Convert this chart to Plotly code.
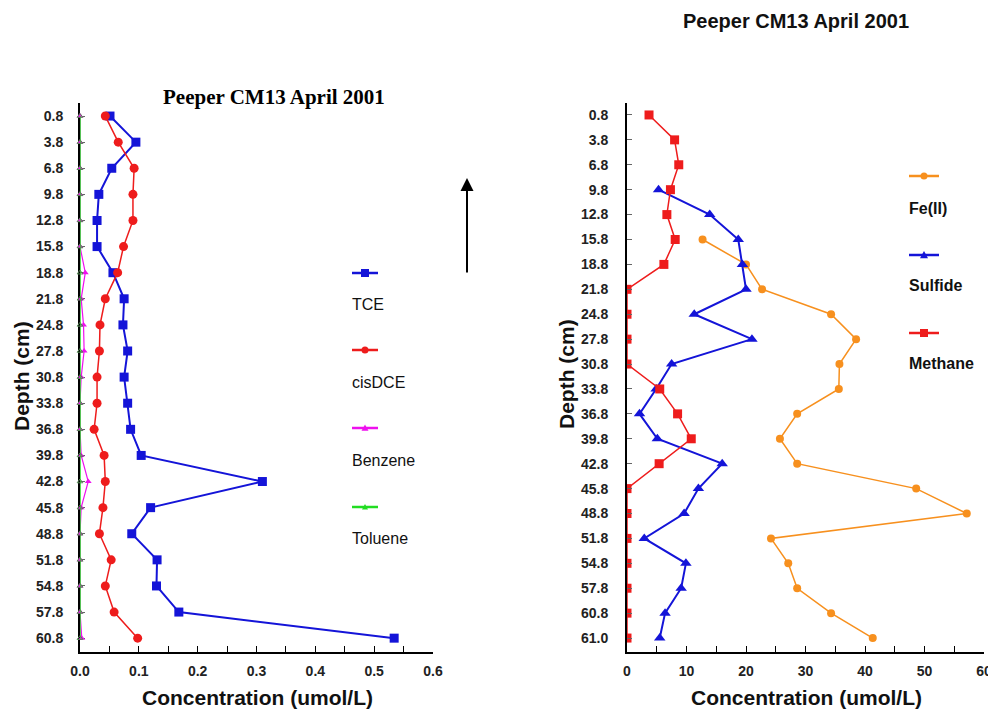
import plotly.graph_objects as go

# page is shown with an 8px body margin, so the figure is drawn 8px in from the top-left
OFF = 8
W, H = 988, 703

# ---------------- data ----------------
depth_left = ["0.8", "3.8", "6.8", "9.8", "12.8", "15.8", "18.8", "21.8", "24.8", "27.8", "30.8",
              "33.8", "36.8", "39.8", "42.8", "45.8", "48.8", "51.8", "54.8", "57.8", "60.8"]
tce = [0.051, 0.095, 0.054, 0.032, 0.029, 0.029, 0.056, 0.075, 0.073, 0.081, 0.075,
       0.081, 0.086, 0.104, 0.310, 0.120, 0.088, 0.131, 0.130, 0.168, 0.534]
cisdce = [0.043, 0.065, 0.092, 0.090, 0.090, 0.074, 0.064, 0.043, 0.034, 0.033, 0.029,
          0.029, 0.024, 0.041, 0.043, 0.039, 0.033, 0.053, 0.043, 0.058, 0.098]
benzene = [0, 0, 0, 0, 0, 0, 0.009, 0.002, 0.006, 0.007, 0.002,
           0, 0, 0.002, 0.014, 0.002, 0, 0, 0, 0, 0.003]
toluene = [0] * 21

depth_right = ["0.8", "3.8", "6.8", "9.8", "12.8", "15.8", "18.8", "21.8", "24.8", "27.8", "30.8",
               "33.8", "36.8", "39.8", "42.8", "45.8", "48.8", "51.8", "54.8", "57.8", "60.8", "61.0"]
fe2 = [None, None, None, None, None, 12.7, 20.0, 22.7, 34.3, 38.5, 35.7,
       35.6, 28.6, 25.7, 28.6, 48.6, 57.1, 24.2, 27.1, 28.6, 34.3, 41.3]
sulfide = [None, None, None, 5.3, 13.9, 18.7, 19.4, 20.0, 11.3, 21.0, 7.5,
           4.9, 2.1, 5.1, 16.0, 12.0, 9.6, 2.9, 9.9, 9.1, 6.4, 5.5]
methane = [3.7, 8.0, 8.7, 7.3, 6.7, 8.1, 6.2, 0, 0, 0, 0,
           5.5, 8.5, 10.8, 5.4, 0, 0, 0, 0, 0, 0, 0]

left_xticks = [0.0, 0.1, 0.2, 0.3, 0.4, 0.5, 0.6]
left_xticklabels = ["0.0", "0.1", "0.2", "0.3", "0.4", "0.5", "0.6"]
right_xticks = [0, 10, 20, 30, 40, 50, 60]

BLUE = "#1414d8"
RED = "#ee1c1c"
MAG = "#ee10ee"
GREEN = "#22dd22"
ORANGE = "#f7901e"


def px(x):
    return (x - OFF) / W


def py(y):
    return 1 - (y - OFF) / H


fig = go.Figure()

# left panel
fig.add_trace(go.Scatter(x=tce, y=depth_left, mode="lines+markers", name="TCE",
                         line=dict(color=BLUE, width=2), marker=dict(symbol="square", size=9, color=BLUE),
                         xaxis="x", yaxis="y"))
fig.add_trace(go.Scatter(x=cisdce, y=depth_left, mode="lines+markers", name="cisDCE",
                         line=dict(color=RED, width=1.5), marker=dict(symbol="circle", size=9, color=RED),
                         xaxis="x", yaxis="y"))
fig.add_trace(go.Scatter(x=benzene, y=depth_left, mode="lines+markers", name="Benzene",
                         line=dict(color=MAG, width=1.2), marker=dict(symbol="triangle-up", size=6, color=MAG),
                         xaxis="x", yaxis="y", cliponaxis=False))
fig.add_trace(go.Scatter(x=toluene, y=depth_left, mode="lines+markers", name="Toluene",
                         line=dict(color=GREEN, width=1.5), marker=dict(symbol="triangle-up-open", size=5, color="#558855"),
                         xaxis="x", yaxis="y", cliponaxis=False))

# right panel
fig.add_trace(go.Scatter(x=fe2, y=depth_right, mode="lines+markers", name="Fe(II)",
                         line=dict(color=ORANGE, width=1.5), marker=dict(symbol="circle", size=8, color=ORANGE),
                         xaxis="x2", yaxis="y2"))
fig.add_trace(go.Scatter(x=sulfide, y=depth_right, mode="lines+markers", name="Sulfide",
                         line=dict(color=BLUE, width=2), marker=dict(symbol="triangle-up", size=10, color=BLUE),
                         xaxis="x2", yaxis="y2"))
fig.add_trace(go.Scatter(x=methane, y=depth_right, mode="lines+markers", name="Methane",
                         line=dict(color=RED, width=1.5), marker=dict(symbol="square", size=9, color=RED),
                         xaxis="x2", yaxis="y2"))

ydom = [py(652), py(103)]
tickfont = dict(family="Liberation Sans, Arial", size=14, color="#222", weight="bold")

common_x = dict(showline=True, linecolor="black", linewidth=2, ticks="inside", ticklen=6,
                tickcolor="black", tickwidth=1, showgrid=False, zeroline=False,
                tickfont=tickfont, automargin=False, ticklabelstandoff=5)
common_y = dict(type="category", showline=True, linecolor="black", linewidth=2, ticks="inside",
                ticklen=5, tickcolor="#666", tickwidth=1, showgrid=False, zeroline=False,
                tickfont=tickfont, automargin=False)

fig.update_layout(
    width=W, height=H, margin=dict(l=0, r=0, t=0, b=0),
    plot_bgcolor="white", paper_bgcolor="white", showlegend=False,
    xaxis=dict(domain=[px(80), px(433)], range=[0, 0.6], anchor="y",
               tickvals=left_xticks, ticktext=left_xticklabels,
               minor=dict(dtick=0.05, ticks="inside", ticklen=6, tickcolor="black"), **common_x),
    yaxis=dict(domain=ydom, range=[20.53, -0.5], anchor="x", ticklabelstandoff=12,
               layer="below traces", **common_y),
    xaxis2=dict(domain=[px(627), px(984)], range=[0, 60], anchor="y2",
                tickvals=right_xticks,
                minor=dict(dtick=5, ticks="inside", ticklen=6, tickcolor="black"), **common_x),
    yaxis2=dict(domain=ydom, range=[21.56, -0.48], anchor="x2", ticklabelstandoff=14,
                **common_y),
)

ann = []
shapes = []


def label(text, x, y, font, xanchor="center", angle=0):
    ann.append(dict(text=text, x=px(x), y=py(y), xref="paper", yref="paper", showarrow=False,
                    xanchor=xanchor, yanchor="middle", textangle=angle, font=font))


SANS = "Liberation Sans, Arial"
# titles
label("<b>Peeper CM13 April 2001</b>", 274, 97, dict(family="Liberation Serif, Times New Roman", size=21, color="black"))
label("<b>Peeper CM13 April 2001</b>", 796, 21, dict(family=SANS, size=20, color="#111"))
# axis titles
for xc in (257, 806):
    label("<b>Concentration (umol/L)</b>", xc, 697, dict(family=SANS, size=21, color="#111"))
for xc, yc in ((22, 376), (567, 374)):
    label("<b>Depth (cm)</b>", xc, yc, dict(family=SANS, size=21, color="#111"), angle=-90)
# arrow
ann.append(dict(text="", x=px(467), y=py(178), xref="paper", yref="paper", showarrow=True,
                ax=0, ay=96, arrowhead=2, arrowsize=1.3, arrowwidth=2, arrowcolor="black"))


def legend_item(x0, x1, yl, yt, color, symbol, text, msize, bold=False):
    shapes.append(dict(type="line", xref="paper", yref="paper", x0=px(x0), x1=px(x1),
                       y0=py(yl), y1=py(yl), line=dict(color=color, width=2.5)))
    cx = (x0 + x1) / 2
    r = msize / 2
    if symbol == "square":
        shapes.append(dict(type="rect", xref="paper", yref="paper", x0=px(cx - r), x1=px(cx + r),
                           y0=py(yl - r), y1=py(yl + r), fillcolor=color, line=dict(width=0)))
    elif symbol == "circle":
        shapes.append(dict(type="circle", xref="paper", yref="paper", x0=px(cx - r), x1=px(cx + r),
                           y0=py(yl - r), y1=py(yl + r), fillcolor=color, line=dict(width=0)))
    else:
        path = f"M {px(cx - r)},{py(yl + r * 0.8)} L {px(cx + r)},{py(yl + r * 0.8)} L {px(cx)},{py(yl - r)} Z"
        shapes.append(dict(type="path", xref="paper", yref="paper", path=path, fillcolor=color,
                           line=dict(width=0)))
    txt = f"<b>{text}</b>" if bold else text
    label(txt, x0 - 2, yt, dict(family=SANS, size=16, color="#111"), xanchor="left")


legend_item(352, 378, 273, 304, BLUE, "square", "TCE", 8)
legend_item(352, 378, 350, 382, RED, "circle", "cisDCE", 7)
legend_item(352, 378, 428, 460, MAG, "triangle", "Benzene", 7)
legend_item(352, 378, 507, 538, GREEN, "triangle", "Toluene", 6)

legend_item(909, 939, 176, 208, ORANGE, "circle", "Fe(II)", 7, bold=True)
legend_item(909, 939, 255, 285, BLUE, "triangle", "Sulfide", 8, bold=True)
legend_item(909, 939, 333, 363, RED, "square", "Methane", 8, bold=True)

fig.update_layout(annotations=ann, shapes=shapes)

fig.write_html("out.html")
